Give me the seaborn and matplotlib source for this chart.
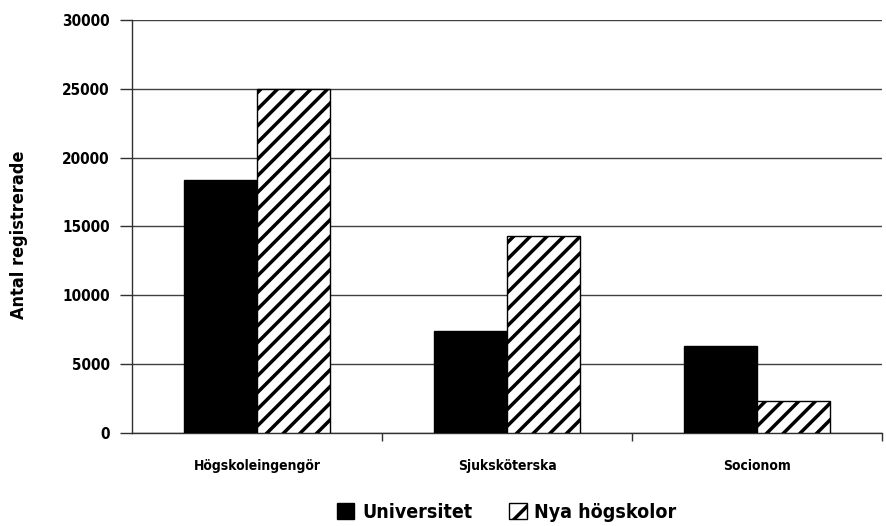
import pandas as pd
import seaborn as sns
import matplotlib.pyplot as plt
import numpy as np
from matplotlib.patches import Patch

# data
categories = ['Högskoleingengör', 'Sjuksköterska', 'Socionom']
universitet = [18400, 7400, 6300]
nya_hogskolor = [24950, 14300, 2350]
series = ['Universitet', 'Nya högskolor']

df = pd.DataFrame({
    'Yrke': categories * 2,
    'Typ': [series[0]] * 3 + [series[1]] * 3,
    'Antal': universitet + nya_hogskolor,
})

sns.set_style('white')
plt.rcParams['font.family'] = ['DejaVu Sans']
plt.rcParams['font.stretch'] = 'condensed'
plt.rcParams.update({
    'text.color': 'black', 'axes.labelcolor': 'black',
    'xtick.color': 'black', 'ytick.color': 'black',
    'hatch.linewidth': 2.5, 'hatch.color': 'black',
})

fig = plt.figure(figsize=(8.86, 5.26), dpi=100)
ax = fig.add_axes([0.149, 0.177, 0.8465, 0.785])

sns.barplot(data=df, x='Yrke', y='Antal', hue='Typ', order=categories, hue_order=series,
            palette={series[0]: 'black', series[1]: 'white'}, width=0.584,
            edgecolor='black', linewidth=1, saturation=1, legend=False, ax=ax, zorder=3)

# hatch the second series
for bar in ax.patches[3:6]:
    bar.set_hatch('//')

ax.set_ylim(0, 30000)
ax.set_xlim(-0.5, 2.5)
ax.set_yticks(np.arange(0, 30001, 5000))
ax.yaxis.grid(True, color='#404040', linewidth=1)
ax.set_axisbelow(True)
for s in ['top', 'right']:
    ax.spines[s].set_visible(False)
for s in ['left', 'bottom']:
    ax.spines[s].set_color('#303030')
    ax.spines[s].set_linewidth(1)

ax.tick_params(axis='y', direction='out', length=9, width=1, color='#303030', left=True,
               labelsize=11, pad=7)
ax.tick_params(axis='x', which='major', length=0, labelsize=10, pad=19)
ax.set_xticks([0.5, 1.5, 2.5], minor=True)
ax.tick_params(axis='x', which='minor', direction='out', length=6, width=1,
               color='#303030', bottom=True)
for lab in ax.get_yticklabels() + ax.get_xticklabels():
    lab.set_fontweight('bold')

ax.set_xlabel('')
ax.set_ylabel('Antal registrerade', fontsize=13, fontweight='bold')
ax.yaxis.set_label_coords(-0.139, 0.48)

# legend centred under the plot area
handles = [Patch(facecolor='black', edgecolor='black', label=series[0]),
           Patch(facecolor='white', edgecolor='black', hatch='/', label=series[1])]
fig.legend(handles=handles, loc='lower center', bbox_to_anchor=(0.572, -0.025), ncol=2,
           frameon=False, prop={'size': 14, 'weight': 'bold', 'stretch': 'condensed'},
           handlelength=0.9, handleheight=0.9, columnspacing=1.9, handletextpad=0.4)

plt.savefig('out.png', dpi=100)
